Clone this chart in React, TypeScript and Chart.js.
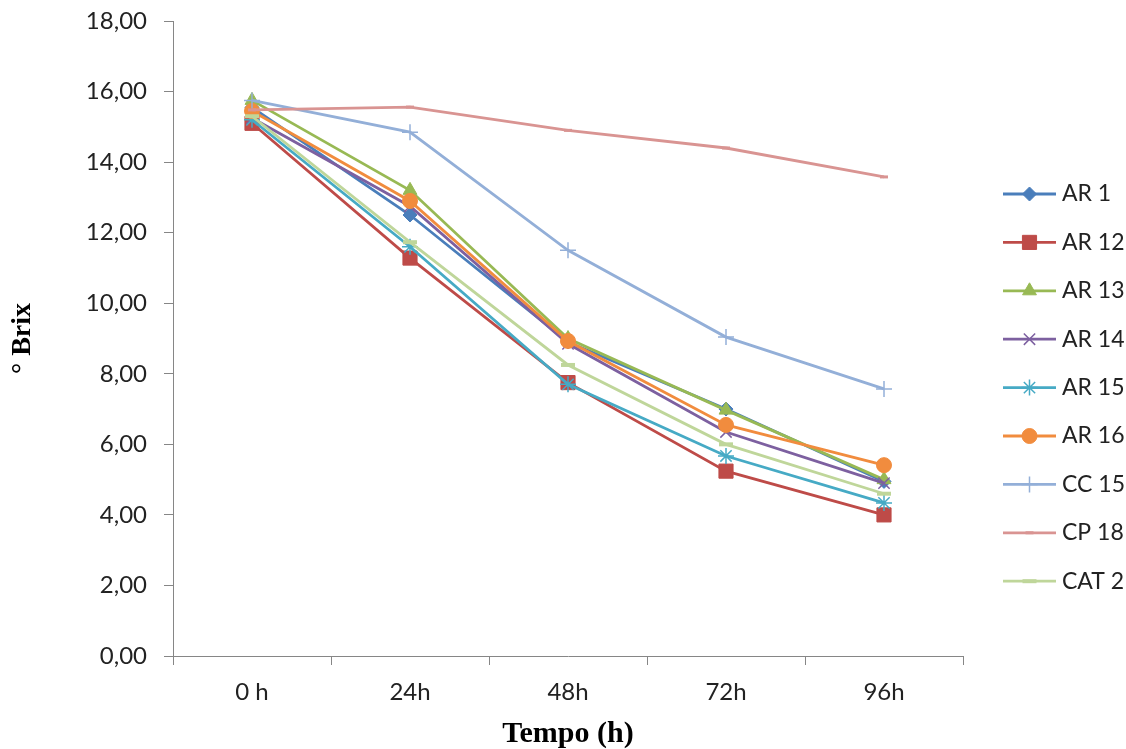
import React, { useEffect, useRef } from "react";
import { Chart, registerables } from "chart.js";
import { drawPoint } from "chart.js/helpers";

Chart.register(...registerables);

const categories = ["0 h", "24h", "48h", "72h", "96h"];
const seriesNames = ["AR 1", "AR 12", "AR 13", "AR 14", "AR 15", "AR 16", "CC 15", "CP 18", "CAT 2"];
const ar1 = [15.55, 12.5, 8.9, 7.0, 4.95];
const ar12 = [15.1, 11.28, 7.75, 5.24, 4.0];
const ar13 = [15.75, 13.2, 9.0, 6.97, 5.0];
const ar14 = [15.25, 12.75, 8.85, 6.35, 4.9];
const ar15 = [15.2, 11.6, 7.7, 5.67, 4.34];
const ar16 = [15.45, 12.9, 8.93, 6.55, 5.41];
const cc15 = [15.75, 14.85, 11.5, 9.04, 7.57];
const cp18 = [15.48, 15.56, 14.9, 14.4, 13.58];
const cat2 = [15.3, 11.73, 8.25, 6.0, 4.6];
const yTicks = [0, 2, 4, 6, 8, 10, 12, 14, 16, 18];

const seriesValues = [ar1, ar12, ar13, ar14, ar15, ar16, cc15, cp18, cat2];
const colors = ["#4A7EBB", "#BE4B48", "#98B954", "#7D60A0", "#46AAC5", "#F18C3E", "#93AFD8", "#D99492", "#BFD69A"];
const pointStyles = ["rectRot", "rect", "triangle", "crossRot", "star", "circle", "cross", "line", "line"];
const pointRadii = [7, 10, 8, 8, 8, 7.5, 8, 4, 7];
const pointBorderWidths = [1, 1, 1, 1.5, 1.5, 1, 1.5, 3, 4];

const LABEL_FONT = "Lato, 'Open Sans', sans-serif";

const legendPlugin = {
  id: "customLegend",
  afterDraw(chart: any) {
    const ctx = chart.ctx;
    const x0 = 1003;
    const x1 = 1056;
    const startY = 194;
    const step = 48.4;
    ctx.save();
    chart.data.datasets.forEach((ds: any, i: number) => {
      const y = startY + i * step;
      ctx.strokeStyle = ds.borderColor;
      ctx.lineWidth = ds.borderWidth;
      ctx.beginPath();
      ctx.moveTo(x0, y);
      ctx.lineTo(x1, y);
      ctx.stroke();
      ctx.fillStyle = ds.pointBackgroundColor;
      ctx.strokeStyle = ds.pointBorderColor;
      ctx.lineWidth = ds.pointBorderWidth;
      drawPoint(ctx, { pointStyle: ds.pointStyle, radius: ds.pointRadius, rotation: 0, borderWidth: ds.pointBorderWidth } as any, (x0 + x1) / 2, y);
      ctx.fillStyle = "#222";
      ctx.font = "23px " + LABEL_FONT;
      ctx.textAlign = "left";
      ctx.textBaseline = "middle";
      ctx.fillText(ds.label, 1062, y);
    });
    ctx.restore();
  },
};

export default function App() {
  const canvasRef = useRef<HTMLCanvasElement | null>(null);

  useEffect(() => {
    document.body.style.margin = "0";
    const canvas = canvasRef.current;
    if (!canvas) return;
    const n = seriesNames.length;
    const chart = new Chart(canvas, {
      type: "line",
      data: {
        labels: categories,
        datasets: seriesNames.map((name, i) => ({
          label: name,
          data: seriesValues[i],
          borderColor: colors[i],
          backgroundColor: colors[i],
          borderWidth: 2.8,
          pointStyle: pointStyles[i] as any,
          pointRadius: pointRadii[i],
          pointHoverRadius: pointRadii[i],
          pointBackgroundColor: colors[i],
          pointBorderColor: colors[i],
          pointBorderWidth: pointBorderWidths[i],
          tension: 0,
          fill: false,
          order: n - i,
        })),
      },
      options: {
        animation: false,
        responsive: false,
        maintainAspectRatio: false,
        layout: { padding: { left: 0, right: 163, top: 21, bottom: 0 } },
        plugins: {
          legend: { display: false },
          tooltip: { enabled: false },
        },
        scales: {
          x: {
            offset: true,
            afterFit: (scale: any) => {
              scale.height = 93;
              scale.paddingLeft = 0;
              scale.paddingRight = 0;
            },
            grid: {
              offset: true,
              drawOnChartArea: false,
              drawTicks: true,
              tickLength: 9,
              color: "#868686",
            },
            border: { color: "#868686", width: 1 },
            ticks: {
              color: "#222",
              font: { family: LABEL_FONT, size: 24 },
              padding: 13,
            },
            title: {
              display: true,
              text: "Tempo (h)",
              color: "#000",
              font: { family: "'Liberation Serif', 'Times New Roman', serif", size: 30, weight: "bold" },
              padding: { top: 0, bottom: -3 },
            },
          },
          y: {
            min: 0,
            max: 18,
            afterFit: (scale: any) => {
              scale.width = 173;
              scale.paddingTop = 0;
              scale.paddingBottom = 0;
            },
            afterBuildTicks: (scale: any) => {
              scale.ticks = yTicks.map((v) => ({ value: v }));
            },
            grid: {
              drawOnChartArea: false,
              drawTicks: true,
              tickLength: 9,
              color: "#868686",
            },
            border: { color: "#868686", width: 1 },
            ticks: {
              color: "#222",
              font: { family: LABEL_FONT, size: 24 },
              padding: 17,
              callback: (v: any) => Number(v).toFixed(2).replace(".", ","),
            },
            title: {
              display: true,
              text: "° Brix",
              color: "#000",
              font: { family: "'Liberation Serif', 'Times New Roman', serif", size: 28, weight: "bold" },
              padding: { top: 6, bottom: 0 },
            },
          },
        },
      },
      plugins: [legendPlugin],
    });
    return () => chart.destroy();
  }, []);

  return (
    <div style={{ width: 1126, height: 749, background: "#fff" }}>
      <canvas ref={canvasRef} width={1126} height={749} style={{ display: "block" }} />
    </div>
  );
}
